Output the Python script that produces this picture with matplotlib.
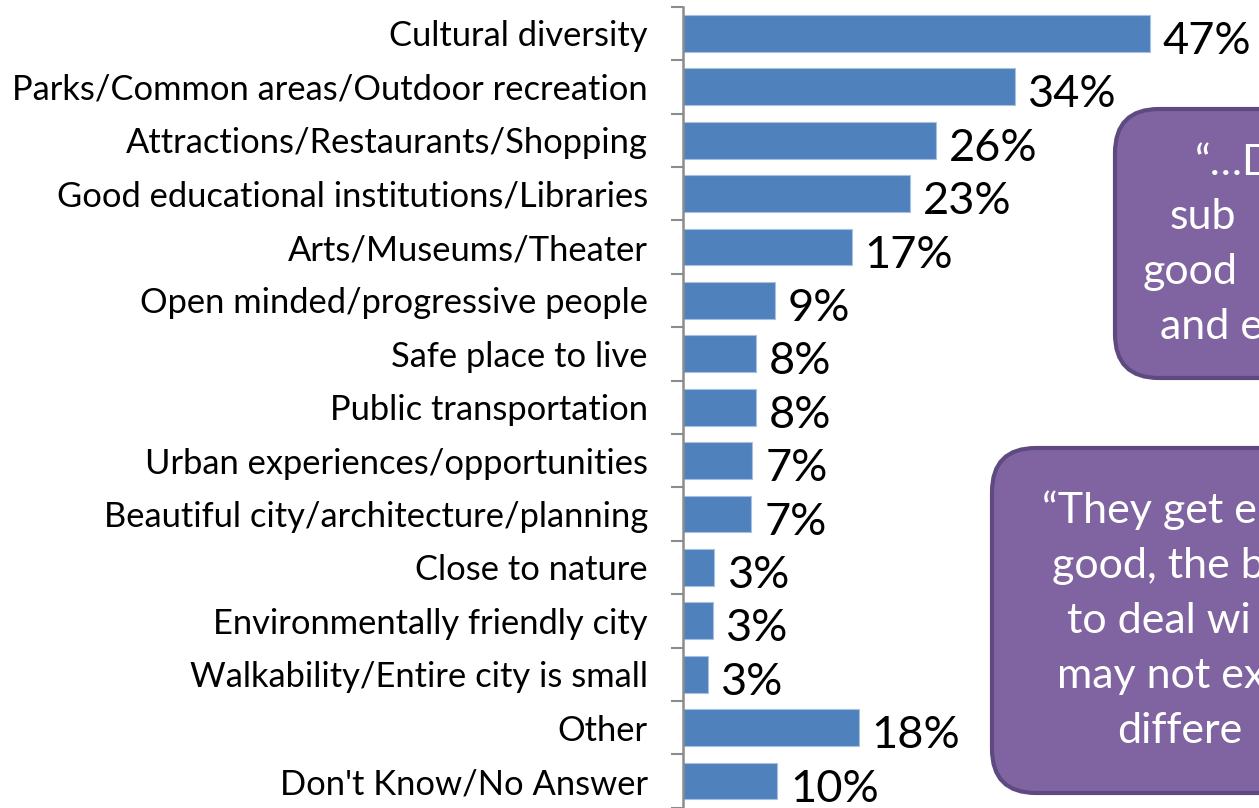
import matplotlib
matplotlib.use("Agg")
import matplotlib.pyplot as plt
from matplotlib.patches import FancyBboxPatch

categories = [
    "Cultural diversity",
    "Parks/Common areas/Outdoor recreation",
    "Attractions/Restaurants/Shopping",
    "Good educational institutions/Libraries",
    "Arts/Museums/Theater",
    "Open minded/progressive people",
    "Safe place to live",
    "Public transportation",
    "Urban experiences/opportunities",
    "Beautiful city/architecture/planning",
    "Close to nature",
    "Environmentally friendly city",
    "Walkability/Entire city is small",
    "Other",
    "Don't Know/No Answer",
]
# bar lengths (percent) as drawn
values = [47.0, 33.4, 25.5, 22.9, 17.0, 9.3, 7.4, 7.4, 7.0, 6.9, 3.2, 3.0, 2.5, 17.7, 9.5]
# printed data labels
value_labels = ["47%", "34%", "26%", "23%", "17%", "9%", "8%", "8%", "7%", "7%",
                "3%", "3%", "3%", "18%", "10%"]

# visible (cropped) fragments of the two quote boxes
quote1_lines = ["\u201c\u2026D", "sub", "good", "and e"]
quote2_lines = ["\u201cThey get e", "good, the b", "to deal wi", "may not ex", "differe"]

W, H = 1259, 808
FONT = "Lato"
BAR = "#4F81BD"
PURPLE = "#8064A2"
PURPLE_EDGE = "#5E4A80"

fig = plt.figure(figsize=(W / 100, H / 100), dpi=100)
ax = fig.add_axes([682.7 / W, 1 - 807.7 / H, 1 - 682.7 / W, (807.7 - 6.8) / H])

y = list(range(len(categories)))
ax.barh(y, values, height=0.69, color=BAR, edgecolor="#A9C1E0", linewidth=0.8)
ax.set_ylim(len(categories) - 0.5, -0.5)
ax.set_xlim(0, 58)

for yi, v, lab in zip(y, values, value_labels):
    ax.text(v + 1.3, yi + 0.15, lab, va="center", ha="left",
            fontsize=32.5, family=FONT, color="black")

ax.set_yticks(y)
ax.set_yticklabels(categories, fontsize=24.8, family=FONT)
ax.tick_params(axis="y", which="major", length=0, pad=25)
ax.set_yticks([i - 0.5 for i in range(len(categories) + 1)], minor=True)
ax.tick_params(axis="y", which="minor", length=8.6, width=1.5, color="#8C8C8C",
               direction="out")
ax.set_xticks([])
for s in ["top", "right", "bottom"]:
    ax.spines[s].set_visible(False)
ax.spines["left"].set_color("#8C8C8C")
ax.spines["left"].set_linewidth(1.8)


def add_box(x0, y0, x1, y1):
    # pixel coords (top-left origin) -> figure fraction
    box = FancyBboxPatch((x0 / W, 1 - y1 / H), (x1 - x0) / W, (y1 - y0) / H,
                         boxstyle="round,pad=0,rounding_size=0.035",
                         transform=fig.transFigure, facecolor=PURPLE,
                         edgecolor=PURPLE_EDGE, linewidth=3, mutation_aspect=W / H,
                         zorder=5)
    fig.add_artist(box)


add_box(1115, 109, 1500, 378)
add_box(992, 448, 1500, 793)

q1_pos = [(1195, 163), (1170, 217), (1143, 272), (1160, 327)]
for (px, py), line in zip(q1_pos, quote1_lines):
    fig.text(px / W, 1 - py / H, line, ha="left", va="center", color="white",
             fontsize=31, family=FONT, zorder=6)

q2_pos = [(1042, 510), (1052, 566), (1067, 621), (1057, 676), (1117, 731)]
for (px, py), line in zip(q2_pos, quote2_lines):
    fig.text(px / W, 1 - py / H, line, ha="left", va="center", color="white",
             fontsize=31, family=FONT, zorder=6)

fig.savefig("out.png", dpi=100)
